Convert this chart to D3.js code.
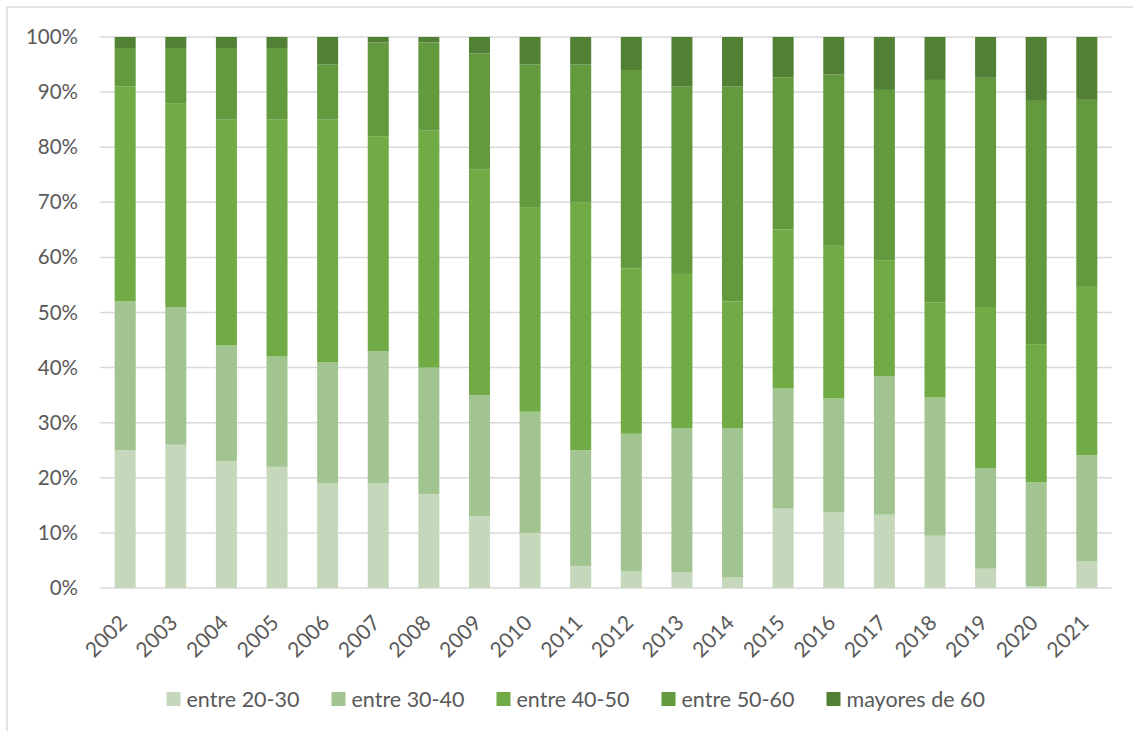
<!DOCTYPE html>
<html>
<head>
<meta charset="utf-8">
<script src="https://cdn.jsdelivr.net/npm/d3@7/dist/d3.min.js"></script>
<style>
  html, body { margin: 0; padding: 0; background: #fff; }
  svg { display: block; }
  text { font-family: Lato, "Liberation Sans", sans-serif; fill: #595959; }
</style>
</head>
<body>
<svg id="chart" width="1133" height="731"></svg>
<script>
const years = ["2002","2003","2004","2005","2006","2007","2008","2009","2010","2011",
               "2012","2013","2014","2015","2016","2017","2018","2019","2020","2021"];
const seriesNames = ["entre 20-30","entre 30-40","entre 40-50","entre 50-60","mayores de 60"];
const seriesColors = ["#c5d8bb","#a2c490","#70ab46","#629a3d","#528135"];

const entre20_30 = [25, 26, 23, 22, 19, 19, 17, 13, 10, 4, 3, 2.8, 1.9, 14.4, 13.7, 13.3, 9.5, 3.5, 0.3, 4.8];
const entre30_40 = [27, 25, 21, 20, 22, 24, 23, 22, 22, 21, 25, 26.2, 27.1, 21.8, 20.7, 25.1, 25.1, 18.2, 18.9, 19.3];
const entre40_50 = [39, 37, 41, 43, 44, 39, 43, 41, 37, 45, 30, 28, 23, 28.9, 27.7, 21.1, 17.3, 29.3, 25.1, 30.7];
const entre50_60 = [7, 10, 13, 13, 10, 17, 16, 21, 26, 25, 36, 34, 39, 27.6, 31.1, 30.9, 40.4, 41.6, 44.2, 33.8];
const mayores60  = [2, 2, 2, 2, 5, 1, 1, 3, 5, 5, 6, 9, 9, 7.3, 6.8, 9.6, 7.8, 7.4, 11.6, 11.4];
const yTicks = [0, 0.1, 0.2, 0.3, 0.4, 0.5, 0.6, 0.7, 0.8, 0.9, 1.0];

const seriesValues = [entre20_30, entre30_40, entre40_50, entre50_60, mayores60];
const table = years.map((y, i) => {
  const row = { year: y };
  const total = d3.sum(seriesValues, s => s[i]);
  seriesNames.forEach((n, k) => row[n] = seriesValues[k][i] / total);
  return row;
});

const svg = d3.select("#chart");
const W = 1133, H = 731;
const margin = { left: 100, right: 21, top: 37, bottom: 143 };
const plotW = W - margin.left - margin.right;
const plotH = H - margin.top - margin.bottom;

// outer frame
svg.append("rect").attr("x", 7).attr("y", 7).attr("width", 1140).attr("height", 740)
  .attr("fill", "none").attr("stroke", "#d9d9d9").attr("stroke-width", 1.5);

const x = d3.scaleBand().domain(years).range([margin.left, margin.left + plotW]).paddingInner(0.585).paddingOuter(0.29);
const y = d3.scaleLinear().domain([0, 1]).range([margin.top + plotH, margin.top]);

// gridlines
svg.append("g").selectAll("line").data(yTicks).join("line")
  .attr("x1", margin.left).attr("x2", margin.left + plotW)
  .attr("y1", d => y(d)).attr("y2", d => y(d))
  .attr("stroke", "#d9d9d9").attr("stroke-width", 1.5);

// y axis labels
const yAxis = d3.axisLeft(y).tickValues(yTicks).tickFormat(d3.format(".0%")).tickSize(0).tickPadding(22);
const gy = svg.append("g").attr("transform", `translate(${margin.left},0)`).call(yAxis);
gy.select(".domain").remove();
gy.selectAll("text").attr("font-size", 20.5).style("fill", "#595959").attr("font-family", "Lato, sans-serif");

// stacked bars
const stack = d3.stack().keys(seriesNames);
const layers = stack(table);
svg.append("g").selectAll("g").data(layers).join("g")
  .attr("fill", (d, i) => seriesColors[i])
  .selectAll("rect").data(d => d).join("rect")
  .attr("x", d => x(d.data.year))
  .attr("width", x.bandwidth())
  .attr("y", d => y(d[1]))
  .attr("height", d => y(d[0]) - y(d[1]));

// x axis
const xAxis = d3.axisBottom(x).tickSize(0).tickPadding(0);
const gx = svg.append("g").attr("transform", `translate(0,${margin.top + plotH})`).call(xAxis);
gx.select(".domain").remove();
gx.selectAll("text")
  .attr("font-size", 21).style("fill", "#595959").attr("font-family", "Lato, sans-serif")
  .attr("text-anchor", "end")
  .attr("dy", "0.35em")
  .attr("transform", "translate(-2,31) rotate(-45)");

// legend
const legend = svg.append("g");
const legX0 = 166.5, legStep = 165, legY = 699;
seriesNames.forEach((n, i) => {
  const g = legend.append("g").attr("transform", `translate(${legX0 + i * legStep},${legY})`);
  g.append("rect").attr("x", 0).attr("y", -7).attr("width", 14).attr("height", 14).attr("fill", seriesColors[i]);
  g.append("text").attr("x", 20).attr("y", 0).attr("dy", "0.35em").attr("font-size", 21.5).text(n);
});
</script>
</body>
</html>
